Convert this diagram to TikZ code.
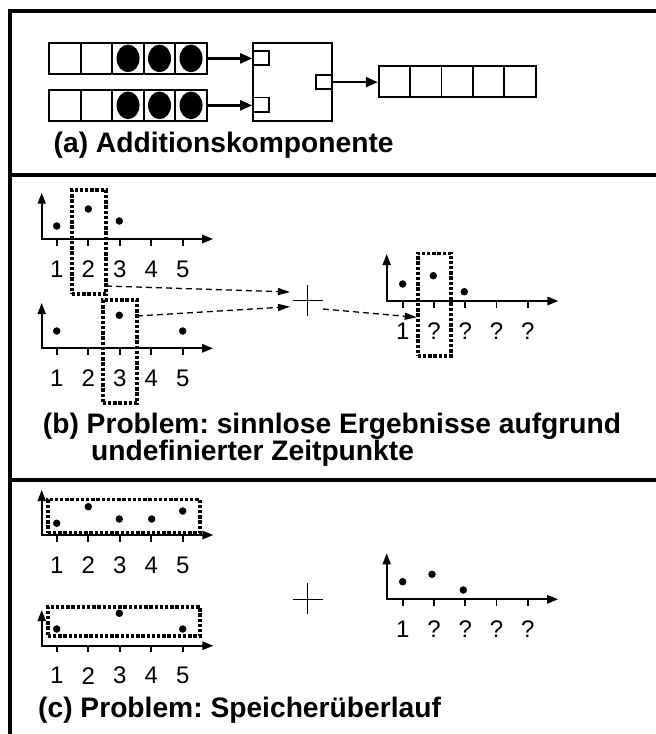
\documentclass[tikz,border=0pt]{standalone}
\usepackage{fontspec}
\setmainfont{Liberation Sans}
\usetikzlibrary{arrows.meta}
\frenchspacing
\newcommand\mygraph[8]{%
  \coordinate (#1o) at (#2,#3);
  \coordinate (#1y) at (#2,#4);
  \coordinate (#1x) at (#5,#3);
  \draw[axisline] (#1y) -- (#1o) -- (#1x);
  \foreach \t [count=\i from 0] in {#8} {
    \draw[tickline] ({#6+#7*\i},#3) -- ++(0,6.5);
    \node[num] (#1l\i) at ({#6+#7*\i},#3+30) {\t};
  }
}
\begin{document}
\begin{tikzpicture}[x=1pt,y=-1pt,
  framerule/.style={line width=3.2pt},
  cell/.style={draw,line width=1.7pt,minimum width=31.5pt,minimum height=31.3pt,inner sep=0pt},
  port/.style={draw,line width=1.7pt,minimum width=16pt,minimum height=14.5pt,inner sep=0pt},
  adder/.style={draw,line width=1.7pt,minimum width=79pt,minimum height=78pt,inner sep=0pt},
  flow/.style={line width=2.4pt,-{Triangle[length=12pt,width=10pt]}},
  axisline/.style={line width=1.7pt,{Triangle[length=11pt,width=8pt]}-{Triangle[length=11pt,width=8.5pt]}},
  tickline/.style={line width=1.6pt},
  datum/.style={circle,fill,inner sep=0pt,minimum size=7.5pt},
  dotbox/.style={draw,line width=3.6pt,dash pattern=on 3.4pt off 1.8pt,inner sep=0pt},
  link/.style={line width=1.3pt,dash pattern=on 6pt off 4pt,-{Triangle[length=12pt,width=7pt]}},
  plusline/.style={line width=1.5pt},
  num/.style={font=\fontsize{24}{28}\selectfont,inner sep=0pt},
  capt/.style={font=\fontsize{28.2}{32}\selectfont\bfseries,inner sep=0pt,anchor=base west}]
\useasboundingbox (0,0) rectangle (656,734);
% frame
\draw[framerule] (660,11) -- (10,11) -- (10,740);
\draw[framerule] (10,175) -- (660,175);
\draw[framerule] (10,480) -- (660,480);
% ---------- (a)
\foreach \i in {0,...,4} {
  \node[cell] (ra\i) at ({65.05+31.5*\i},58.4) {};
  \node[cell] (rb\i) at ({65.05+31.5*\i},105.35) {};
  \node[cell] (rc\i) at ({394.4+31.4*\i},81.5) {};
}
\foreach \i in {2,3,4} {
  \fill (ra\i.center) ellipse [x radius=11.5pt, y radius=13.8pt];
  \fill (rb\i.center) ellipse [x radius=11.5pt, y radius=13.8pt];
}
\node[adder] (add) at (292.5,81.7) {};
\node[port] (in1) at (261,58) {};
\node[port] (in2) at (261,104.7) {};
\node[port,minimum width=16.3pt,minimum height=14.3pt] (outp) at (323.85,82.15) {};
\draw[flow] (ra4.east) -- (ra4.east -| in1.west);
\draw[flow] (rb4.east) -- (rb4.east -| in2.west);
\draw[flow] (outp.east) -- (outp.east -| rc0.west);
\node[capt] (capa) at (53.5,152.5) {(a) Additionskomponente};
% ---------- (b)
\mygraph{ba}{41.7}{239}{192.7}{213}{56.7}{31.5}{1,2,3,4,5}
\mygraph{bb}{41.7}{348.3}{303}{213}{56.7}{31.5}{1,2,3,4,5}
\mygraph{br}{386.7}{301}{254}{558.3}{402.7}{31.25}{1,?,?,?,?}
\node[datum] (bap1) at (56.7,226) {};
\node[datum] (bap2) at (88.3,209) {};
\node[datum] (bap3) at (119.3,221) {};
\node[datum] (bbp1) at (56.7,331) {};
\node[datum] (bbp3) at (119.3,315.3) {};
\node[datum] (bbp5) at (182.7,331) {};
\node[datum] (brp1) at (402.7,284) {};
\node[datum] (brp2) at (433.3,275.7) {};
\node[datum] (brp3) at (464.3,291.7) {};
\node[dotbox,minimum width=34.3pt,minimum height=104pt] (dba) at (88.85,242) {};
\node[dotbox,minimum width=34.3pt,minimum height=103pt] (dbb) at (119.85,351.5) {};
\node[dotbox,minimum width=33pt,minimum height=102.7pt] (dbr) at (434.2,304.65) {};
% plus (b)
\coordinate (plb) at (307.7,300.7);
\draw[plusline] (292.7,300.7) -- (323.3,300.7);
\draw[plusline] (307.7,285) -- (307.7,316);
\coordinate (sa) at (106,286);
\coordinate (sb) at (137,316);
\coordinate (pa) at (290,292);
\coordinate (pb) at (290,306.7);
\coordinate (pc) at (323,309);
\coordinate (ta) at (416.7,317.3);
\draw[link] (sa) -- (pa);
\draw[link] (sb) -- (pb);
\draw[link] (pc) -- (ta);
\node[capt] (capb1) at (42.7,433) {(b) Problem: sinnlose Ergebnisse aufgrund};
\node[capt] (capb2) at (91,460) {undefinierter Zeitpunkte};
% ---------- (c)
\mygraph{ca}{41.7}{535}{490}{213.3}{56.7}{31.5}{1,2,3,4,5}
\mygraph{cb}{41.7}{645.7}{610}{213.3}{56.7}{31.5}{1,2,3,4,5}
\mygraph{cr}{386.7}{599.3}{553.3}{558}{402.7}{31.25}{1,?,?,?,?}
\node[datum] (cap1) at (56.7,523.3) {};
\node[datum] (cap2) at (88.3,506.7) {};
\node[datum] (cap3) at (119.3,519) {};
\node[datum] (cap4) at (151.7,519) {};
\node[datum] (cap5) at (182.7,511) {};
\node[datum] (cbp1) at (56.7,629) {};
\node[datum] (cbp3) at (119.3,613.3) {};
\node[datum] (cbp5) at (182.7,629) {};
\node[datum] (crp1) at (402.7,581.7) {};
\node[datum] (crp2) at (432,574.3) {};
\node[datum] (crp3) at (463.3,590) {};
\node[dotbox,minimum width=152.3pt,minimum height=33.4pt] (dca) at (123.85,516) {};
\node[dotbox,minimum width=152.3pt,minimum height=29.3pt] (dcb) at (123.85,621.35) {};
\coordinate (plc) at (307.7,599.3);
\draw[plusline] (292.7,599.3) -- (323.3,599.3);
\draw[plusline] (307.7,583.3) -- (307.7,614);
\node[capt] (capc) at (38,717) {(c) Problem: Speicherüberlauf};
\end{tikzpicture}
\end{document}
